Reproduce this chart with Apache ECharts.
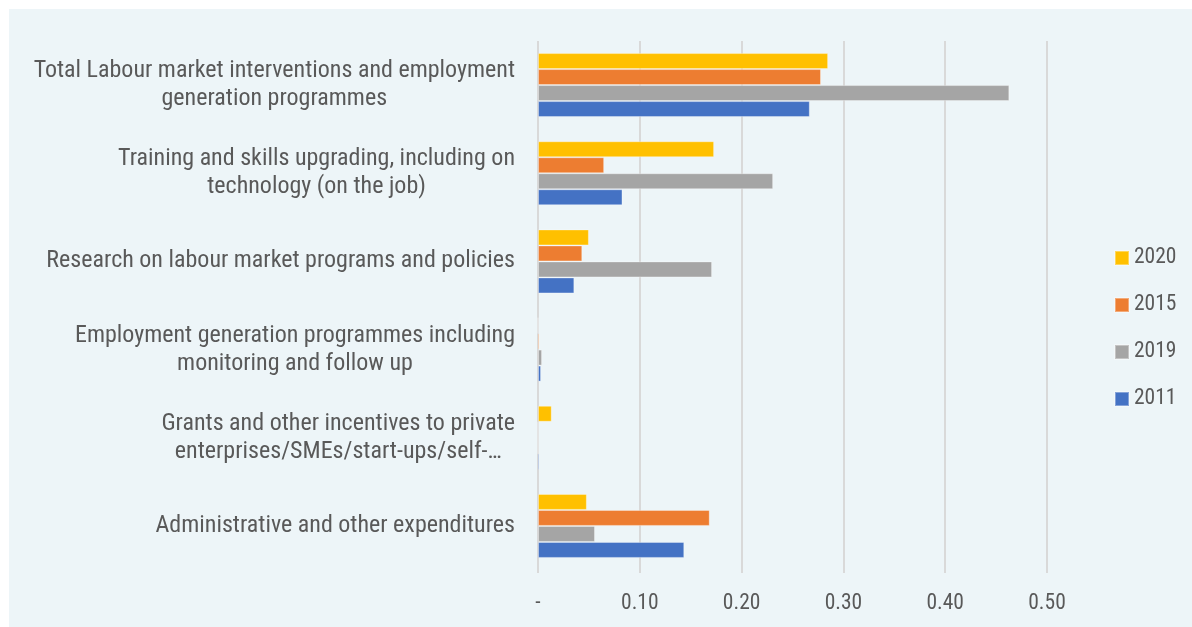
<!DOCTYPE html>
<html>
<head>
<meta charset="utf-8">
<script src="https://cdn.jsdelivr.net/npm/echarts@6/dist/echarts.min.js"></script>
<style>
  html, body { margin: 0; padding: 0; background: #ffffff; }
  #wrap { position: absolute; left: 9px; top: 9px; right: 0; bottom: 0; background: #EDF5F8; }
  #chart { position: absolute; left: 0; top: 0; width: 1192px; height: 627px; }
</style>
</head>
<body>
<div id="wrap"></div>
<div id="chart"></div>
<script>
// Expenditure by programme type, share values per year
const categories = [
  'Total Labour market interventions and employment\ngeneration programmes',
  'Training and skills upgrading, including on\ntechnology (on the job)',
  'Research on labour market programs and policies',
  'Employment generation programmes including\nmonitoring and follow up',
  'Grants and other incentives to private\nenterprises/SMEs/start-ups/self-…',
  'Administrative and other expenditures'
];
const values2020 = [0.285, 0.173, 0.050, 0, 0.0135, 0.048];
const values2015 = [0.278, 0.065, 0.0435, 0.0015, 0, 0.1687];
const values2019 = [0.463, 0.231, 0.171, 0.004, 0, 0.056];
const values2011 = [0.267, 0.083, 0.0357, 0.003, 0.0015, 0.1437];
const xTicks = { 0: '-', 0.1: '0.10', 0.2: '0.20', 0.3: '0.30', 0.4: '0.40', 0.5: '0.50' };

const FONT = "'Roboto Condensed','Liberation Sans Narrow','Arial Narrow',sans-serif";
const TEXT = '#595959';

const chart = echarts.init(document.getElementById('chart'), null, { renderer: 'canvas' });

function bar(name, data, color) {
  return {
    name: name,
    type: 'bar',
    data: data,
    barWidth: 16,
    barGap: '0%',
    itemStyle: { color: color, borderColor: 'rgba(255,255,255,0.35)', borderWidth: 1 }
  };
}

chart.setOption({
  backgroundColor: 'transparent',
  animation: false,
  grid: { left: 538, right: 145, top: 41, bottom: 57, containLabel: false },
  legend: {
    orient: 'vertical',
    left: 1114,
    top: 247,
    padding: 0,
    itemWidth: 14,
    itemHeight: 14,
    itemGap: 25,
    icon: 'rect',
    textStyle: { fontFamily: FONT, fontSize: 21.5, color: TEXT, lineHeight: 20 },
    data: ['2020', '2015', '2019', '2011']
  },
  xAxis: {
    type: 'value',
    min: 0,
    max: 0.5,
    interval: 0.1,
    axisLine: { show: false },
    axisTick: { show: true, length: 3, lineStyle: { color: '#D9D9D9', width: 2 } },
    splitLine: { show: true, lineStyle: { color: '#D9D9D9', width: 2 } },
    axisLabel: {
      margin: 23,
      fontFamily: FONT,
      fontSize: 21.5,
      color: TEXT,
      formatter: v => xTicks[Math.round(v * 10) / 10] ?? ''
    }
  },
  yAxis: {
    type: 'category',
    inverse: true,
    data: categories,
    axisLine: { show: false },
    axisTick: { show: false },
    axisLabel: {
      margin: 23,
      align: 'right',
      formatter: v => v.split('\n').map(s => '{c|' + s + '}').join('\n'),
      rich: {
        c: { align: 'center', fontFamily: FONT, fontSize: 24, color: TEXT, lineHeight: 28 }
      }
    }
  },
  series: [
    bar('2020', values2020, '#FFC000'),
    bar('2015', values2015, '#ED7D31'),
    bar('2019', values2019, '#A5A5A5'),
    bar('2011', values2011, '#4472C4')
  ]
});
</script>
</body>
</html>
